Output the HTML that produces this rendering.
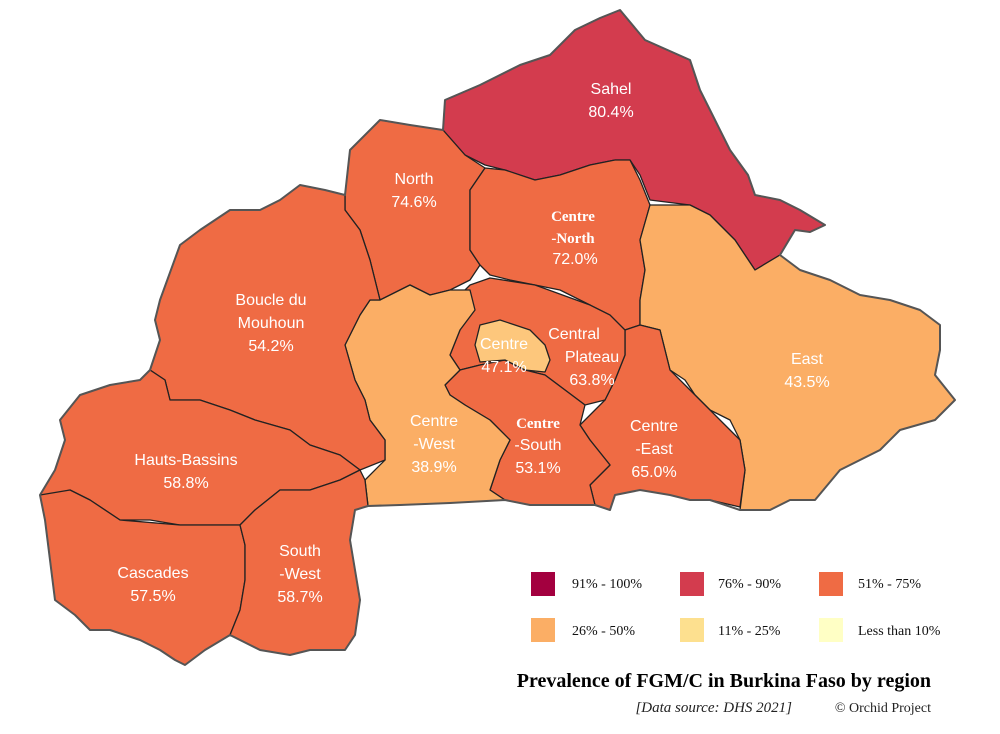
<!DOCTYPE html>
<html><head><meta charset="utf-8"><style>
body{margin:0;background:#fff;}
svg{display:block}
.l{fill:#fff;font-family:"Liberation Sans",sans-serif;font-size:16px;text-anchor:middle}
.s{fill:#fff;font-family:"Liberation Serif",serif;font-size:15px;text-anchor:middle;font-weight:bold}
.lg{font-family:"Liberation Serif",serif;font-size:14px;fill:#111}
</style></head><body>
<svg width="1000" height="734" viewBox="0 0 1000 734">
<g stroke="#222" stroke-width="1.3" stroke-linejoin="round">
<path fill="#d33c4e" d="M443,130 L445,100 480,85 520,65 550,55 575,30 600,18 620,10 645,40 690,60 700,90 715,120 730,150 748,175 755,195 780,200 800,210 825,225 810,232 795,230 780,255 755,270 735,240 710,215 690,205 650,200 640,175 630,160 615,160 590,165 560,175 535,180 505,170 485,165 465,155Z"/>
<path fill="#ef6b44" d="M345,195 L350,150 380,120 410,125 443,130 465,155 485,168 470,190 470,215 470,250 480,265 470,280 450,290 430,295 410,285 380,300 370,260 360,230 345,210Z"/>
<path fill="#ef6b44" d="M470,190 L485,168 505,170 535,180 560,175 590,165 615,160 630,160 640,180 650,205 640,240 645,270 640,300 640,325 625,330 600,315 590,305 560,290 535,285 510,280 490,275 480,265 470,250Z"/>
<path fill="#fbae65" d="M650,205 L690,205 710,215 735,240 755,270 780,255 800,270 830,280 860,295 890,300 920,310 940,325 940,350 935,375 955,400 935,420 900,430 880,450 840,470 815,500 790,500 770,510 740,510 745,470 740,440 730,420 710,410 695,395 685,380 670,370 665,350 660,330 640,325 640,300 645,270 640,240Z"/>
<path fill="#ef6b44" d="M625,330 L640,325 660,330 670,370 685,385 710,410 740,440 745,470 740,507 710,500 690,500 670,495 640,490 615,495 610,510 595,505 590,485 610,465 590,440 580,425 595,410 605,400 615,380 625,355Z"/>
<path fill="#ef6b44" d="M455,300 L470,285 490,278 535,285 590,305 610,315 625,330 625,355 615,380 605,400 585,405 565,390 545,375 525,370 505,360 480,365 460,370 450,355 460,330 465,310Z"/>
<path fill="#ef6b44" d="M445,385 L460,370 480,365 505,360 525,370 545,375 565,390 585,405 580,425 590,440 610,465 590,485 595,505 560,505 530,505 505,500 490,490 500,460 510,440 490,420 465,405 450,395Z"/>
<path fill="#fbae65" d="M360,315 L370,300 380,300 410,285 430,295 450,290 470,290 475,310 460,330 450,355 460,370 445,385 450,395 465,405 490,420 510,440 500,460 490,490 505,500 450,503 400,505 368,506 365,480 385,460 385,440 370,420 365,400 355,380 345,345Z"/>
<path fill="#fdc77c" d="M480,325 L500,320 515,325 530,330 545,345 550,360 545,372 525,370 505,360 480,362 475,345Z"/>
<path fill="#ef6b44" d="M160,300 L180,245 200,230 230,210 260,210 280,200 300,185 325,190 345,195 345,210 360,230 370,260 380,300 370,300 360,315 345,345 355,380 365,400 370,420 385,440 385,460 360,470 340,455 310,445 290,430 255,420 230,410 200,400 170,400 165,380 150,370 160,340 155,320Z"/>
<path fill="#ef6b44" d="M60,420 L80,395 110,385 140,380 150,370 165,380 170,400 200,400 230,410 255,420 290,430 310,445 340,455 360,470 340,480 310,490 280,490 255,510 240,525 210,525 180,525 150,520 120,520 90,500 70,490 50,495 40,495 55,470 65,440Z"/>
<path fill="#ef6b44" d="M40,495 L70,490 90,500 120,520 180,525 240,525 245,545 245,580 240,610 230,635 205,650 185,665 175,660 160,650 140,640 110,630 90,630 75,615 55,600 50,560 45,520Z"/>
<path fill="#ef6b44" d="M240,525 L255,510 280,490 310,490 340,480 360,470 365,480 368,506 355,510 350,540 355,570 360,600 355,635 345,650 310,650 290,655 260,650 240,640 230,635 240,610 245,580 245,545Z"/>
</g>
<path fill="none" stroke="#555" stroke-width="2" stroke-linejoin="round" d="M443,130 L445,100 480,85 520,65 550,55 575,30 600,18 620,10 645,40 690,60 700,90 715,120 730,150 748,175 755,195 780,200 800,210 825,225 810,232 795,230 780,255 800,270 830,280 860,295 890,300 920,310 940,325 940,350 935,375 955,400 935,420 900,430 880,450 840,470 815,500 790,500 770,510 740,510 710,500 690,500 670,495 640,490 615,495 610,510 595,505 560,505 530,505 505,500 450,503 400,505 368,506 355,510 350,540 355,570 360,600 355,635 345,650 310,650 290,655 260,650 240,640 230,635 205,650 185,665 175,660 160,650 140,640 110,630 90,630 75,615 55,600 50,560 45,520 40,495 55,470 65,440 60,420 80,395 110,385 140,380 150,370 160,340 155,320 160,300 180,245 200,230 230,210 260,210 280,200 300,185 325,190 345,195 350,150 380,120 410,125Z"/>
<text class="l" x="611" y="94">Sahel</text><text class="l" x="611" y="117">80.4%</text>
<text class="l" x="414" y="184">North</text><text class="l" x="414" y="207">74.6%</text>
<text class="s" x="573" y="221">Centre</text><text class="s" x="573" y="243">-North</text><text class="l" x="575" y="264">72.0%</text>
<text class="l" x="271" y="305">Boucle du</text><text class="l" x="271" y="328">Mouhoun</text><text class="l" x="271" y="351">54.2%</text>
<text class="l" x="807" y="364">East</text><text class="l" x="807" y="387">43.5%</text>
<text class="l" x="574" y="339">Central</text><text class="l" x="592" y="362">Plateau</text><text class="l" x="592" y="385">63.8%</text>
<text class="l" x="504" y="349">Centre</text><text class="l" x="504" y="372">47.1%</text>
<text class="l" x="434" y="426">Centre</text><text class="l" x="434" y="449">-West</text><text class="l" x="434" y="472">38.9%</text>
<text class="s" x="538" y="428">Centre</text><text class="l" x="538" y="450">-South</text><text class="l" x="538" y="473">53.1%</text>
<text class="l" x="654" y="431">Centre</text><text class="l" x="654" y="454">-East</text><text class="l" x="654" y="477">65.0%</text>
<text class="l" x="186" y="465">Hauts-Bassins</text><text class="l" x="186" y="488">58.8%</text>
<text class="l" x="153" y="578">Cascades</text><text class="l" x="153" y="601">57.5%</text>
<text class="l" x="300" y="556">South</text><text class="l" x="300" y="579">-West</text><text class="l" x="300" y="602">58.7%</text>
<rect x="531" y="572" width="24" height="24" fill="#a3003f"/><text class="lg" x="572" y="588">91% - 100%</text>
<rect x="680" y="572" width="24" height="24" fill="#d33c4e"/><text class="lg" x="718" y="588">76% - 90%</text>
<rect x="819" y="572" width="24" height="24" fill="#ef6b44"/><text class="lg" x="858" y="588">51% - 75%</text>
<rect x="531" y="618" width="24" height="24" fill="#fbae65"/><text class="lg" x="572" y="635">26% - 50%</text>
<rect x="680" y="618" width="24" height="24" fill="#fde08f"/><text class="lg" x="718" y="635">11% - 25%</text>
<rect x="819" y="618" width="24" height="24" fill="#ffffc5"/><text class="lg" x="858" y="635">Less than 10%</text>
<text x="931" y="687" text-anchor="end" style="font-family:'Liberation Serif',serif;font-size:20px;font-weight:bold;fill:#000">Prevalence of FGM/C in Burkina Faso by region</text>
<text x="792" y="712" text-anchor="end" style="font-family:'Liberation Serif',serif;font-size:15px;font-style:italic;fill:#222">[Data source: DHS 2021]</text>
<text x="931" y="712" text-anchor="end" style="font-family:'Liberation Serif',serif;font-size:14px;fill:#222">© Orchid Project</text>
</svg>
</body></html>
